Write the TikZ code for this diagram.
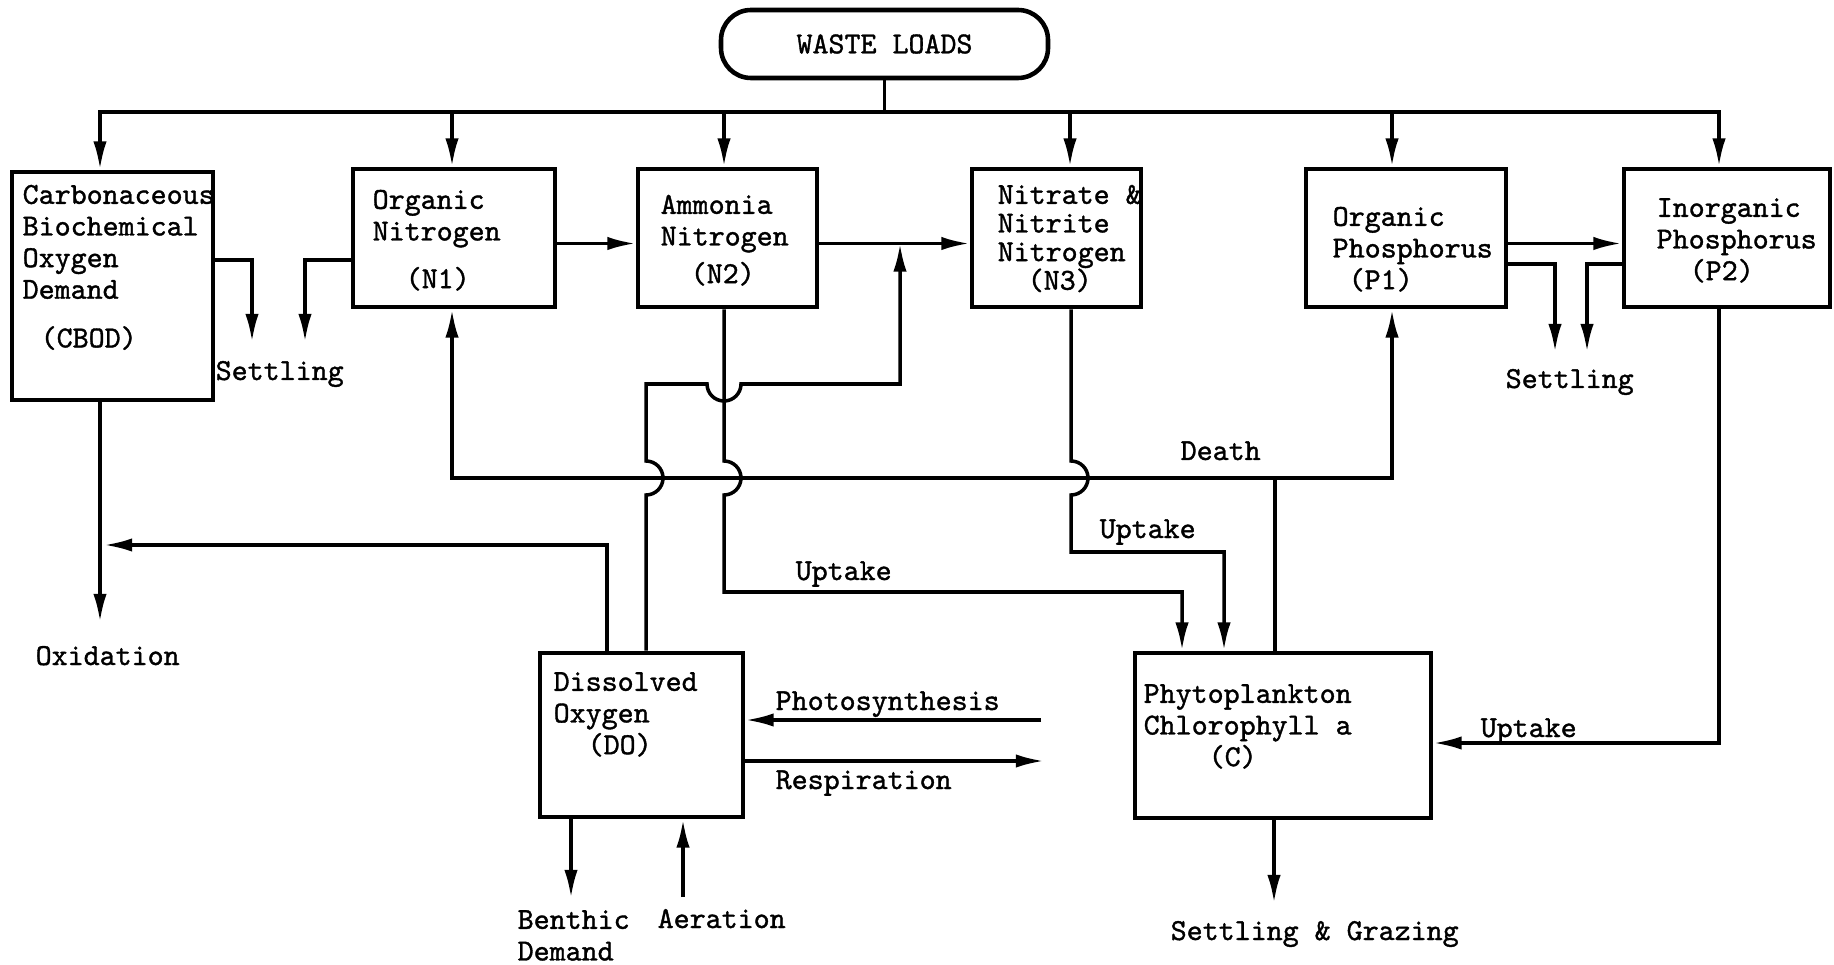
\documentclass[tikz,border=0pt]{standalone}
\usepackage{fontspec}
\setmonofont{lmmono10-regular.otf}[FakeBold=1.2]
\usetikzlibrary{arrows.meta}

\tikzset{
	box/.style={draw, line width=1.4pt, inner sep=0pt},
	txt/.style={inner sep=0pt, align=left, anchor=north west},
	lbl/.style={inner sep=0pt, anchor=base west},
	line/.style={line width=1pt},
	arr/.style={line width=1pt, -{Latex[length=8pt,width=3.8pt]}},
	arrs/.style={line width=1pt, {Latex[length=8pt,width=3.8pt]}-{Latex[length=8pt,width=3.8pt]}},
}

\begin{document}
\begin{tikzpicture}[font=\ttfamily\fontsize{8.67}{9}\selectfont]
	\useasboundingbox (0,0) rectangle (18.34,-9.65);

	\def\hr{0.17}
	\coordinate (flow) at (0,-2.435);

	% boxes
	\node[box, line width=1.3pt, rounded corners=0.3cm, minimum width=3.27cm, minimum height=0.68cm] (waste) at (8.845,-0.44) {WASTE LOADS};
	\node[box, minimum width=2.01cm, minimum height=2.28cm] (cbod) at (1.125,-2.86) {};
	\node[box, minimum width=2.02cm, minimum height=1.38cm] (n1) at (4.54,-2.38) {};
	\node[box, minimum width=1.79cm, minimum height=1.38cm] (n2) at (7.275,-2.38) {};
	\node[box, minimum width=1.69cm, minimum height=1.38cm] (n3) at (10.565,-2.38) {};
	\node[box, minimum width=2.00cm, minimum height=1.38cm] (p1) at (14.06,-2.38) {};
	\node[box, minimum width=2.06cm, minimum height=1.38cm] (p2) at (17.27,-2.38) {};
	\node[box, minimum width=2.03cm, minimum height=1.64cm] (do) at (6.415,-7.35) {};
	\node[box, minimum width=2.96cm, minimum height=1.65cm] (c) at (12.83,-7.355) {};

	\node[txt] (cbodtxt) at (0.22,-1.81) {\strut Carbonaceous\\Biochemical\\Oxygen\\Demand\\[0.17cm]\hspace*{0.18cm}(CBOD)};
	\node[txt] (n1txt) at (3.72,-1.86) {\strut Organic\\Nitrogen\\[0.16cm]\hspace*{0.33cm}(N1)};
	\node[txt] (n2txt) at (6.60,-1.91) {\strut Ammonia\\Nitrogen\\[0.06cm]\hspace*{0.30cm}(N2)};
	\node[txt] (n3txt) at (9.97,-1.81) {\strut Nitrate \&\\[-0.03cm]Nitrite\\[-0.03cm]Nitrogen\\[-0.03cm]\hspace*{0.30cm}(N3)};
	\node[txt] (p1txt) at (13.32,-2.03) {\strut Organic\\Phosphorus\\\hspace*{0.16cm}(P1)};
	\node[txt] (p2txt) at (16.56,-1.94) {\strut Inorganic\\Phosphorus\\\hspace*{0.33cm}(P2)};
	\node[txt] (dotxt) at (5.53,-6.68) {\strut Dissolved\\Oxygen\\\hspace*{0.34cm}(DO)};
	\node[txt] (ctxt) at (11.43,-6.80) {\strut Phytoplankton\\Chlorophyll a\\\hspace*{0.65cm}(C)};

	% loads
	\draw[line] (waste.south) -- (waste.south |- 0,-1.12);
	\draw[arrs] (cbod.north -| 1.00,0) -- (1.00,-1.12) -- (17.19,-1.12) -- (p2.north -| 17.19,0);
	\foreach \x/\n in {4.52/n1, 7.24/n2, 10.70/n3, 13.92/p1}
		\draw[arr] (\x,-1.12) -- (\n.north -| \x,0);

	% nitrogen and phosphorus chain
	\draw[arr] (n1.east |- flow) -- (n2.west |- flow);
	\draw[arr] (n2.east |- flow) -- (n3.west |- flow);
	\draw[arr] (p1.east |- flow) -- (p2.west |- flow);

	% settling
	\coordinate (sa) at (2.52,-3.42);
	\coordinate (sb) at (3.05,-3.42);
	\coordinate (sc) at (15.55,-3.52);
	\coordinate (sd) at (15.87,-3.52);
	\draw[arr] (cbod.east |- 0,-2.60) -- (sa |- 0,-2.60) -- (sa);
	\draw[arr] (n1.west |- 0,-2.60) -- (sb |- 0,-2.60) -- (sb);
	\draw[arr] (p1.east |- 0,-2.64) -- (sc |- 0,-2.64) -- (sc);
	\draw[arr] (p2.west |- 0,-2.64) -- (sd |- 0,-2.64) -- (sd);
	\node[lbl] (settle1) at (2.15,-3.80) {Settling};
	\node[lbl] (settle2) at (15.05,-3.88) {Settling};

	% death
	\draw[arrs] (n1.south -| 4.52,0) -- (4.52,-4.78) -- (13.92,-4.78) -- (p1.south -| 13.92,0);
	\draw[line] (c.north -| 12.75,0) -- (12.75,-4.78);
	\node[lbl] (death) at (11.80,-4.60) {Death};

	% uptake
	\draw[arr] (n2.south -| 7.24,0) -- (7.24,-4.78+\hr) arc[start angle=90, end angle=-90, radius=\hr]
		-- (7.24,-5.92) -- (11.82,-5.92) -- (c.north -| 11.82,0);
	\draw[arr] (n3.south -| 10.71,0) -- (10.71,-4.78+\hr) arc[start angle=90, end angle=-90, radius=\hr]
		-- (10.71,-5.52) -- (12.24,-5.52) -- (c.north -| 12.24,0);
	\draw[arr] (p2.south -| 17.19,0) -- (17.19,-7.43) -- (c.east |- 0,-7.43);
	\node[lbl] (up2) at (7.95,-5.80) {Uptake};
	\node[lbl] (up3) at (10.99,-5.38) {Uptake};
	\node[lbl] (upp) at (14.80,-7.37) {Uptake};

	% oxygen
	\draw[arr] (do.north -| 6.46,0) -- (6.46,-4.78-\hr) arc[start angle=-90, end angle=90, radius=\hr]
		-- (6.46,-3.84) -- (7.24-\hr,-3.84) arc[start angle=180, end angle=360, radius=\hr]
		-- (9.00,-3.84) -- (9.00,0 |- flow);
	\coordinate (ox) at (1.00,-6.22);
	\draw[arr] (cbod.south -| ox) -- (ox);
	\draw[arr] (do.north -| 6.07,0) -- (6.07,-5.45) -- (1.04,-5.45);
	\node[lbl] (oxid) at (0.35,-6.65) {Oxidation};

	\coordinate (ps) at (10.41,-7.20);
	\coordinate (rs) at (10.44,-7.61);
	\draw[arr] (ps) -- (do.east |- ps);
	\draw[arr] (do.east |- rs) -- (rs);
	\node[lbl] (photo) at (7.75,-7.10) {Photosynthesis};
	\node[lbl] (resp) at (7.75,-7.89) {Respiration};

	\coordinate (bd) at (5.71,-8.98);
	\coordinate (ae) at (6.83,-8.97);
	\draw[arr] (do.south -| bd) -- (bd);
	\draw[arr] (ae) -- (do.south -| ae);
	\node[txt] (benthic) at (5.17,-9.06) {\strut Benthic\\Demand};
	\node[lbl] (aer) at (6.57,-9.28) {Aeration};

	\coordinate (gz) at (12.74,-9.03);
	\draw[arr] (c.south -| gz) -- (gz);
	\node[lbl] (graze) at (11.70,-9.40) {Settling \& Grazing};
\end{tikzpicture}
\end{document}
